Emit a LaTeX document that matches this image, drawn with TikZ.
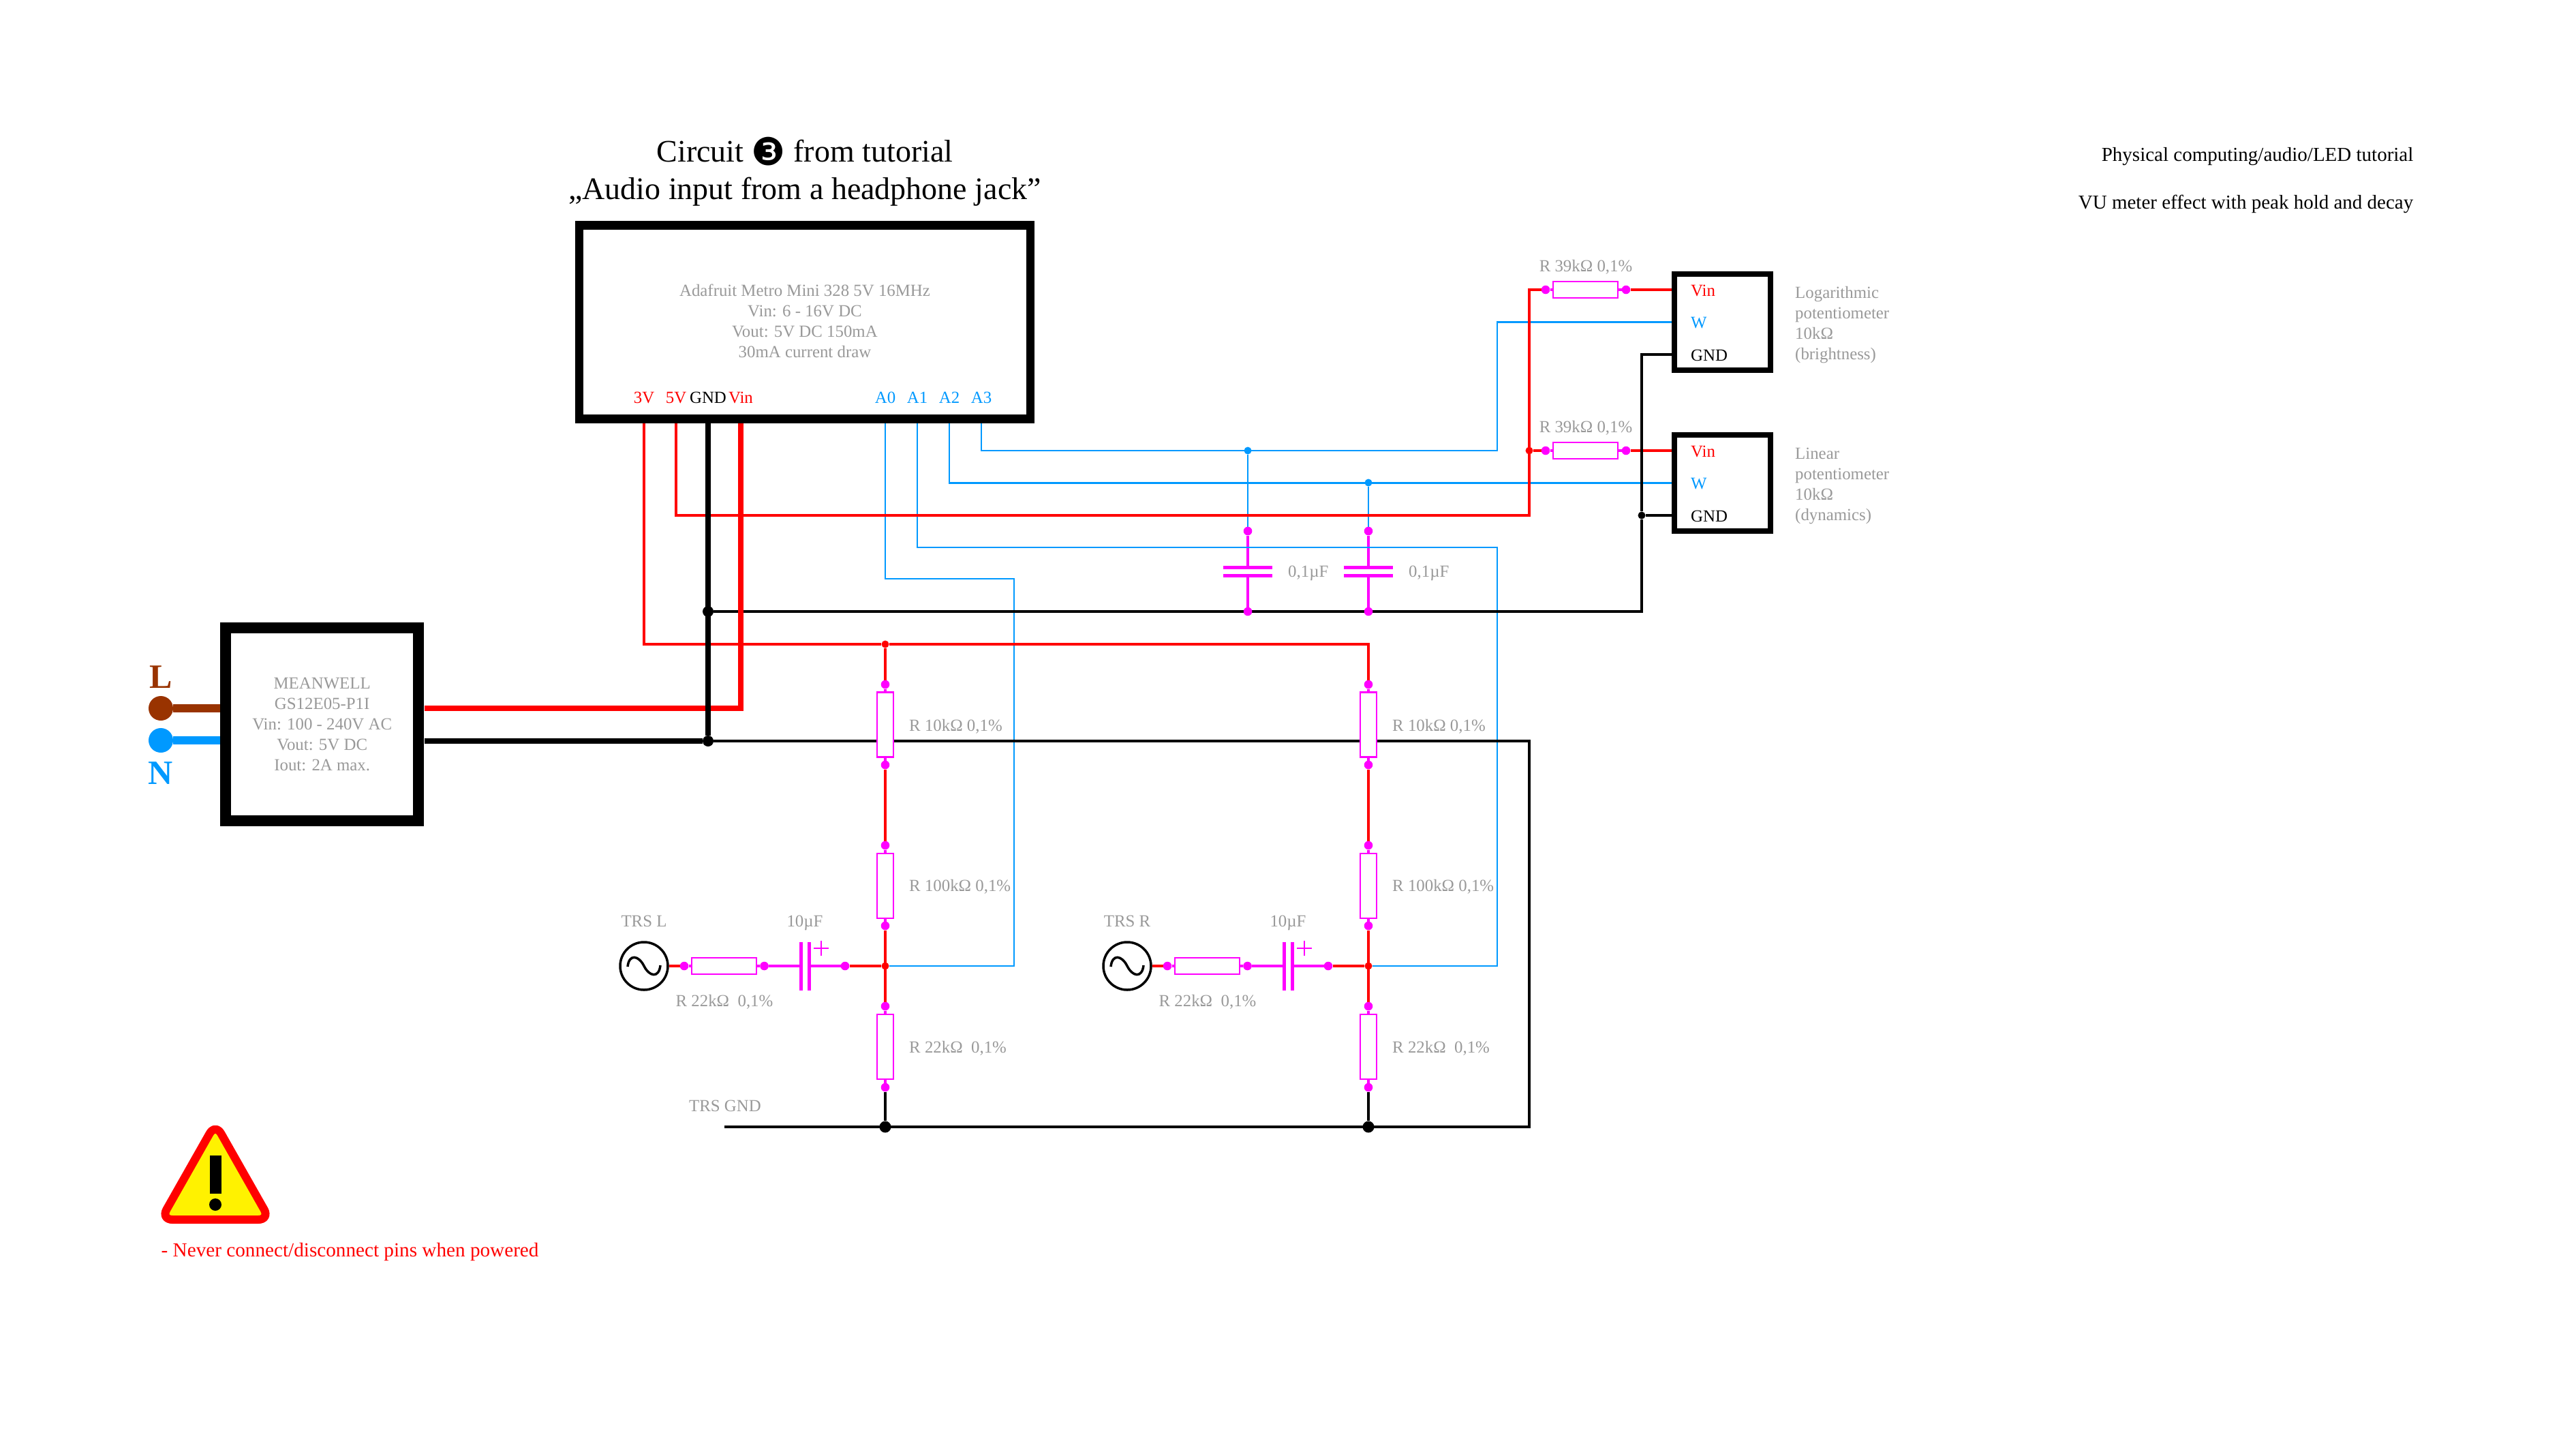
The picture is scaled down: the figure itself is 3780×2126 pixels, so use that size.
\documentclass[tikz,border=0pt]{standalone}
\usepackage{fontspec}
\setmainfont{Liberation Serif}
\newfontfamily\symfont{DejaVu Sans}
\usetikzlibrary{backgrounds}
\definecolor{sigblue}{HTML}{0099FF}
\definecolor{linebrown}{HTML}{993300}
\definecolor{notegray}{HTML}{999999}
\definecolor{partpink}{HTML}{FF00FF}
\tikzset{
  modbox/.style={draw,fill=white,inner sep=0pt,align=center,text=notegray,font=\fontsize{24.85}{30}\selectfont},
  note/.style={inner sep=0pt,text=notegray,font=\fontsize{24.85}{30}\selectfont},
  pinlabel/.style={inner sep=0pt,anchor=base,font=\fontsize{24.85}{30}\selectfont},
  pad/.style={circle,fill=partpink,inner sep=0pt,minimum size=12.6pt},
  joint/.style={circle,fill=#1,inner sep=0pt,minimum size=11pt},
  reshor/.style={draw=partpink,line width=2.5pt,fill=white,inner sep=0pt,minimum width=95pt,minimum height=24pt},
  resver/.style={draw=partpink,line width=2.5pt,fill=white,inner sep=0pt,minimum width=24pt,minimum height=95pt},
  lead/.style={draw=partpink,line width=3.2pt},
  plate/.style={draw=partpink,line width=5pt},
  redwire/.style={draw=red,line width=4pt},
  blackwire/.style={draw=black,line width=4pt},
  bluewire/.style={draw=sigblue,line width=2.2pt},
}
\begin{document}
\begin{tikzpicture}[x=1pt,y=-1pt]
  \useasboundingbox (0,0) rectangle (3780,2126);
  % title
  \node[inner sep=0pt,align=center,font=\fontsize{46}{55}\selectfont] (title) at (1181,254)
    {Circuit \smash{\raisebox{-5pt}{\symfont\fontsize{56}{55}\selectfont ❸}} from tutorial\\„Audio input from a headphone jack”};
  \node[inner sep=0pt,anchor=base east,font=\fontsize{29}{30}\selectfont] (topicA) at (3541.5,236) {Physical computing/audio/LED tutorial};
  \node[inner sep=0pt,anchor=base east,font=\fontsize{29}{30}\selectfont] (topicB) at (3541.5,306) {VU meter effect with peak hold and decay};
  % boards
  \node[modbox,line width=12.5pt,minimum width=662pt,minimum height=284pt] (metro) at (1181,472.5) {};
  \node[note,align=center] (metrotxt) at (1181,471) {Adafruit Metro Mini 328 5V 16MHz\\Vin: 6 - 16V DC\\Vout: 5V DC 150mA\\30mA current draw};
  \node[modbox,line width=16pt,minimum width=283.5pt,minimum height=283.5pt] (psu) at (472.7,1062.7)
    {MEANWELL\\GS12E05-P1I\\Vin: 100 - 240V AC\\Vout: 5V DC\\Iout: 2A max.};
  \foreach \nm/\x/\cl in {3V/945/red,5V/992/red,GND/1039/black,Vin/1087/red,A0/1299/sigblue,A1/1346/sigblue,A2/1393/sigblue,A3/1440/sigblue} {
    \coordinate (pin\nm) at (\x,621);
    \node[pinlabel,text=\cl] (lbl\nm) at (\x,591) {\nm};
  }
  % mains side
  \node[circle,fill=linebrown,inner sep=0pt,minimum size=36pt] (mainsL) at (236,1039) {};
  \node[circle,fill=sigblue,inner sep=0pt,minimum size=36pt] (mainsN) at (236,1086) {};
  \node[inner sep=0pt,text=linebrown,font=\fontsize{50}{55}\selectfont\bfseries] (lblL) at (236,993) {L};
  \node[inner sep=0pt,text=sigblue,font=\fontsize{50}{55}\selectfont\bfseries] (lblN) at (236,1134) {N};
  \coordinate (psuL) at (323,1039);
  \coordinate (psuN) at (323,1086);
  \coordinate (psuVin) at (623,1039);
  \coordinate (psuGnd) at (623,1087);
  % potentiometers
  \foreach \nm/\dy/\ta/\tb in {A/0/Logarithmic/(brightness),B/236/Linear/(dynamics)} {
    \begin{scope}[shift={(0,\dy)}]
      \node[modbox,line width=8pt,minimum width=141.5pt,minimum height=141pt] (pot\nm) at (2527.7,472.5) {};
      \node[note,anchor=west,align=left] (pottxt\nm) at (2634,477) {\ta\\potentiometer\\10kΩ\\\tb};
      \node[pinlabel,anchor=base west,text=red] (lblVin\nm) at (2481,434) {Vin};
      \node[pinlabel,anchor=base west,text=sigblue] (lblW\nm) at (2481,481) {W};
      \node[pinlabel,anchor=base west] (lblGnd\nm) at (2481,529) {GND};
      \coordinate (pot\nm Vin) at (2453,425);
      \coordinate (pot\nm W) at (2453,472.5);
      \coordinate (pot\nm Gnd) at (2453,520);
      \node[pad] (pad\nm l) at (2268,425) {};
      \node[pad] (pad\nm r) at (2386,425) {};
      \node[reshor] (res\nm) at (2326.5,425) {};
      \node[note,anchor=base] (reslbl\nm) at (2327,398) {R 39kΩ 0,1\%};
    \end{scope}
    \begin{scope}[on background layer]
      \draw[lead] (pad\nm l) -- (res\nm) -- (pad\nm r);
      \draw[redwire] (pad\nm r) -- (pot\nm Vin);
    \end{scope}
  }
  % junctions of the top rails
  \node[joint=sigblue] (tapA) at (1831,661) {};
  \node[joint=sigblue] (tapB) at (2008,708) {};
  \node[joint=red] (redtap) at (2244,661) {};
  \node[joint=black] (gndtap) at (2409,756) {};
  \node[joint=black,minimum size=16pt] (gndtop) at (1039,897) {};
  \node[joint=black,minimum size=16pt] (gndmid) at (1039,1087) {};
  \node[joint=red] (redL) at (1299,945) {};
  % smoothing capacitors
  \foreach \nm/\x in {A/1831,B/2008} {
    \node[pad] (captop\nm) at (\x,779) {};
    \node[pad] (capbot\nm) at (\x,897) {};
    \coordinate (plup\nm) at (\x,832);
    \coordinate (pldn\nm) at (\x,844);
    \node[note,anchor=base west] (caplbl\nm) at (\x+59,846) {0,1µF};
    \draw[plate] (\x-36,832) -- (\x+36,832) (\x-36,844) -- (\x+36,844);
    \begin{scope}[on background layer]
      \draw[lead] (captop\nm) -- (plup\nm) (pldn\nm) -- (capbot\nm);
    \end{scope}
  }
  % input stages
  \foreach \dx/\ch/\nm in {0/L/a,709/R/b} {
    \begin{scope}[shift={(\dx,0)}]
      \node[draw,circle,line width=3.5pt,fill=white,inner sep=0pt,minimum size=70pt] (src\nm) at (945,1417) {};
      \draw[line width=3.5pt,shift={(src\nm.center)}] (-24,1) .. controls (-22,-18) and (-8,-16) .. (0,0) .. controls (8,16) and (22,18) .. (24,-1);
      \node[note,anchor=base] (srclbl\nm) at (945,1359) {TRS \ch};
      \node[pad] (inl\nm) at (1004,1417) {};
      \node[reshor] (rin\nm) at (1062.5,1417) {};
      \node[pad] (inr\nm) at (1121.5,1417) {};
      \node[note,anchor=base] (rinlbl\nm) at (1063,1476) {R 22kΩ\ \ 0,1\%};
      \coordinate (elp\nm) at (1187,1417);
      \coordinate (eln\nm) at (1175,1417);
      \draw[plate] (1175,1382) -- (1175,1453) (1187,1382) -- (1187,1453);
      \draw[partpink,line width=2.5pt] (1194,1391) -- (1216,1391) (1205,1380) -- (1205,1402);
      \node[note,anchor=base] (elcap\nm) at (1181,1359) {10µF};
      \node[pad] (elr\nm) at (1240,1417) {};
      \node[joint=red] (mid\nm) at (1299,1417) {};
      \node[pad] (pa\nm) at (1299,1004) {};
      \node[resver] (ra\nm) at (1299,1063) {};
      \node[pad] (pb\nm) at (1299,1122) {};
      \node[note,anchor=base west] (ralbl\nm) at (1334,1072) {R 10kΩ 0,1\%};
      \node[pad] (pc\nm) at (1299,1240) {};
      \node[resver] (rb\nm) at (1299,1299.5) {};
      \node[pad] (pd\nm) at (1299,1358) {};
      \node[note,anchor=base west] (rblbl\nm) at (1334,1307) {R 100kΩ 0,1\%};
      \node[pad] (pe\nm) at (1299,1476) {};
      \node[resver] (rc\nm) at (1299,1535.5) {};
      \node[pad] (pf\nm) at (1299,1595) {};
      \node[note,anchor=base west] (rclbl\nm) at (1334,1544) {R 22kΩ\ \ 0,1\%};
      \node[joint=black,minimum size=17pt] (gnd\nm) at (1299,1653) {};
      \begin{scope}[on background layer]
        \draw[redwire] (src\nm) -- (inl\nm);
        \draw[lead] (inl\nm) -- (rin\nm) -- (inr\nm) -- (eln\nm) (elp\nm) -- (elr\nm);
        \draw[lead] (pa\nm) -- (ra\nm) -- (pb\nm) (pc\nm) -- (rb\nm) -- (pd\nm) (pe\nm) -- (rc\nm) -- (pf\nm);
        \draw[redwire] (elr\nm) -- (mid\nm);
        \draw[redwire] (pb\nm) -- (pc\nm) (pd\nm) -- (pe\nm);
        \draw[blackwire] (pf\nm) -- (gnd\nm);
      \end{scope}
    \end{scope}
  }
  \coordinate (trsgnd) at (1063,1653);
  \node[note,anchor=base west] (trslbl) at (1011,1630) {TRS GND};
  % wiring under the parts
  \begin{scope}[on background layer]
    \draw[bluewire] (pinA0) |- (1488,849) |- (mida);
    \draw[bluewire] (pinA1) |- (2197,803) |- (midb);
    \draw[bluewire] (pinA2) |- (potBW);
    \draw[bluewire] (pinA3) |- (2197,661) |- (potAW);
    \draw[bluewire] (tapA) -- (captopA);
    \draw[bluewire] (tapB) -- (captopB);
    \draw[blackwire] (gndmid) -- (2244,1087) |- (trsgnd);
    \draw[blackwire] (gndtop) -| (gndtap) (potBGnd) -- (gndtap) (potAGnd) -| (gndtap);
    \draw[redwire] (pin3V) |- (redL) -- (2008,945) -- (pab) (redL) -- (paa);
    \draw[redwire] (pin5V) |- (2244,756) |- (padAl);
    \draw[redwire] (redtap) -- (padBl);
    \draw[red,line width=8pt] (pinVin) |- (psuVin);
    \draw[line width=8pt] (pinGND) -- (gndmid) (psuGnd) -- (gndmid);
    \draw[linebrown,line width=12pt] (mainsL) -- (psuL);
    \draw[sigblue,line width=12pt] (mainsN) -- (psuN);
  \end{scope}
  % warning sign
  \draw[red,fill=yellow,line width=12pt,rounded corners=17pt,line join=round] (316,1648) -- (396,1789) -- (236,1789) -- cycle;
  \fill (307.5,1695) rectangle (324.5,1751);
  \fill (316,1767) circle (9);
  \node[inner sep=0pt,anchor=base west,text=red,font=\fontsize{29.2}{30}\selectfont] (warntxt) at (236.5,1843) {- Never connect/disconnect pins when powered};
\end{tikzpicture}
\end{document}
